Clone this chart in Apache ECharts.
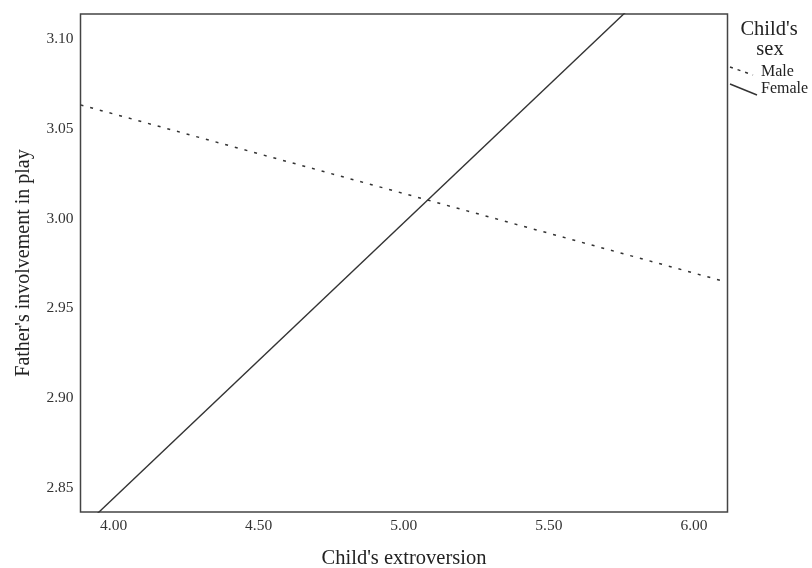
<!DOCTYPE html>
<html>
<head>
<meta charset="utf-8">
<script src="https://cdn.jsdelivr.net/npm/echarts@6/dist/echarts.min.js"></script>
<style>
html,body{margin:0;padding:0;background:#fff;}
#chart{width:812px;height:568px;}
</style>
</head>
<body>
<div id="chart"></div>
<script>
// Data
const maleX = [3.886, 6.0955];
const maleY = [3.0633, 2.9654];
const femaleX = [3.886, 6.0955];
const femaleY = [2.8268, 3.1657];
const xTicks = [4.00, 4.50, 5.00, 5.50, 6.00];
const yTicks = [2.85, 2.90, 2.95, 3.00, 3.05, 3.10];
const seriesNames = ['Male', 'Female'];
const legendTitle = ["Child's", 'sex'];

const FONT = 'Liberation Serif';
const chart = echarts.init(document.getElementById('chart'), null, {renderer: 'canvas'});

chart.setOption({
  backgroundColor: '#fff',
  animation: false,
  grid: {
    left: 80.5, top: 14, right: 84.5, bottom: 56,
    outerBoundsMode: 'none',
    containLabel: false,
    show: true, borderColor: '#444', borderWidth: 1.5
  },
  xAxis: {
    type: 'value',
    min: 3.886, max: 6.1155,
    name: "Child's extroversion",
    nameLocation: 'middle',
    nameGap: 36,
    nameTextStyle: {fontFamily: FONT, fontSize: 20.5, color: '#222', verticalAlign: 'top'},
    axisLine: {show: false},
    axisTick: {show: false},
    splitLine: {show: false},
    axisLabel: {
      customValues: xTicks,
      formatter: v => v.toFixed(2),
      fontFamily: FONT, fontSize: 15.5, color: '#333', margin: 6
    }
  },
  yAxis: {
    type: 'value',
    min: 2.8366, max: 3.1139,
    name: "Father's involvement in play",
    nameLocation: 'middle',
    nameGap: 47,
    nameTextStyle: {fontFamily: FONT, fontSize: 20, color: '#222'},
    axisLine: {show: false},
    axisTick: {show: false},
    splitLine: {show: false},
    axisLabel: {
      customValues: yTicks,
      formatter: v => v.toFixed(2),
      fontFamily: FONT, fontSize: 15.5, color: '#333', margin: 7
    }
  },
  series: [
    {
      name: seriesNames[0],
      type: 'line',
      data: maleX.map((x, i) => [x, maleY[i]]),
      showSymbol: false,
      clip: true,
      lineStyle: {color: '#333', width: 1.5, type: [3, 7]}
    },
    {
      name: seriesNames[1],
      type: 'line',
      data: femaleX.map((x, i) => [x, femaleY[i]]),
      showSymbol: false,
      clip: true,
      lineStyle: {color: '#333', width: 1.4, type: 'solid'}
    }
  ],
  graphic: [
    {type: 'text', x: 769, y: 19, style: {text: legendTitle[0], align: 'center', fontFamily: FONT, fontSize: 20.5, fill: '#222'}},
    {type: 'text', x: 770, y: 39, style: {text: legendTitle[1], align: 'center', fontFamily: FONT, fontSize: 20.5, fill: '#222'}},
    {type: 'line', shape: {x1: 730, y1: 67, x2: 753, y2: 75}, style: {stroke: '#333', lineWidth: 1.5, lineDash: [3, 5]}},
    {type: 'text', x: 761, y: 64, style: {text: seriesNames[0], fontFamily: FONT, fontSize: 16, fill: '#222'}},
    {type: 'line', shape: {x1: 730, y1: 84, x2: 757, y2: 95}, style: {stroke: '#333', lineWidth: 1.4}},
    {type: 'text', x: 761, y: 81, style: {text: seriesNames[1], fontFamily: FONT, fontSize: 16, fill: '#222'}}
  ]
});
</script>
</body>
</html>
